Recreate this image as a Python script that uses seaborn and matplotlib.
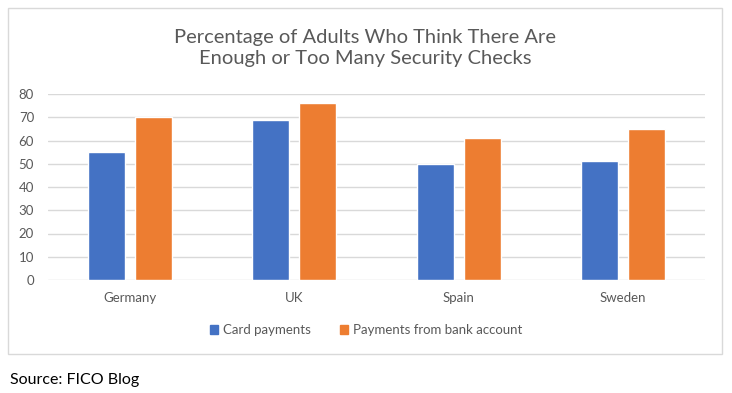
import pandas as pd
import seaborn as sns
import matplotlib.pyplot as plt
from matplotlib.patches import Rectangle

countries = ["Germany", "UK", "Spain", "Sweden"]
card_payments = [55, 69, 50, 51]
bank_payments = [70, 76, 61, 65]
series_names = ["Card payments", "Payments from bank account"]
colors = ["#4472C4", "#ED7D31"]

df = pd.DataFrame({
    "country": countries * 2,
    "value": card_payments + bank_payments,
    "series": [series_names[0]] * 4 + [series_names[1]] * 4,
})

sns.set_theme(style="white")
plt.rcParams["font.family"] = ["Lato", "DejaVu Sans"]
text_color = "#595959"

fig = plt.figure(figsize=(7.32, 3.93), dpi=100)
ax = fig.add_axes([48 / 732, 1 - 280 / 393, (705 - 48) / 732, (280 - 94) / 393])

sns.barplot(data=df, x="country", y="value", hue="series", palette=colors,
            width=0.573, gap=0.21, ax=ax, legend=False, saturation=1)

ax.set_ylim(0, 80)
ax.set_yticks(range(0, 81, 10))
ax.set_xlim(-0.5, 3.5)
ax.yaxis.grid(True, color="#D9D9D9", linewidth=1)
ax.set_axisbelow(True)
for s in ax.spines.values():
    s.set_visible(False)
ax.set_xlabel("")
ax.set_ylabel("")
ax.tick_params(axis="both", length=0, labelsize=9.5, colors=text_color)
ax.tick_params(axis="x", pad=9)
ax.tick_params(axis="y", pad=10)

fig.text(365 / 732, 1 - 48 / 393,
         "Percentage of Adults Who Think There Are\nEnough or Too Many Security Checks",
         ha="center", va="center", fontsize=14.5, color=text_color, linespacing=1.3)

handles = [Rectangle((0, 0), 1, 1, color=c) for c in colors]
fig.legend(handles, series_names, loc="center", bbox_to_anchor=(0.5, 1 - 330 / 393),
           ncol=2, frameon=False, fontsize=9.5, handlelength=0.6, handleheight=0.6,
           handletextpad=0.4, columnspacing=2.2, labelcolor=text_color)

fig.patches.append(Rectangle((8 / 732, 1 - 354 / 393), 714 / 732, 346 / 393,
                             transform=fig.transFigure, fill=False,
                             edgecolor="#D9D9D9", linewidth=1))

fig.text(10 / 732, 1 - 380 / 393, "Source: FICO Blog", ha="left", va="center",
         fontsize=11.5, color="black")

fig.savefig("out.png", dpi=100)
